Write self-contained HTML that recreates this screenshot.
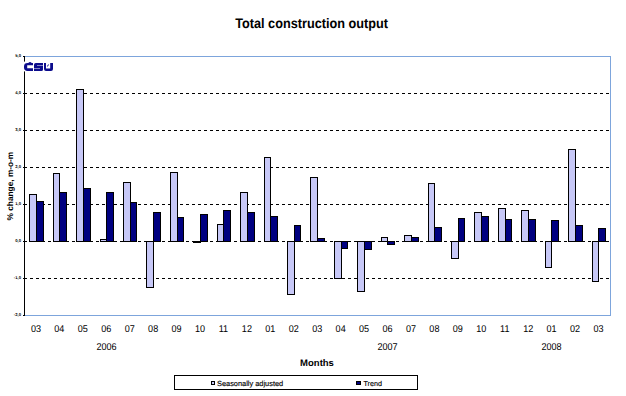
<!DOCTYPE html>
<html><head><meta charset="utf-8"><style>
html,body{margin:0;padding:0;background:#fff;width:626px;height:396px;overflow:hidden}
svg{display:block}
text{font-family:"Liberation Sans",sans-serif;text-rendering:geometricPrecision}
</style></head><body>
<svg width="626" height="396" viewBox="0 0 626 396">
<rect x="0" y="0" width="626" height="396" fill="#fff"/>
<text transform="translate(311.6,28) scale(0.92,1)" text-anchor="middle" font-weight="bold" font-size="13.8">Total construction output</text>
<line x1="24" y1="93.5" x2="610" y2="93.5" stroke="#000" stroke-width="1" stroke-dasharray="3 3"/><line x1="24" y1="130.5" x2="610" y2="130.5" stroke="#000" stroke-width="1" stroke-dasharray="3 3"/><line x1="24" y1="167.5" x2="610" y2="167.5" stroke="#000" stroke-width="1" stroke-dasharray="3 3"/><line x1="24" y1="204.5" x2="610" y2="204.5" stroke="#000" stroke-width="1" stroke-dasharray="3 3"/><line x1="24" y1="241.5" x2="610" y2="241.5" stroke="#000" stroke-width="1" stroke-dasharray="3 3"/><line x1="24" y1="278.5" x2="610" y2="278.5" stroke="#000" stroke-width="1" stroke-dasharray="3 3"/>
<rect x="29.5" y="194.5" width="7" height="47" fill="#c7c8f7" stroke="#000" stroke-width="1"/><rect x="36.5" y="201.5" width="7" height="40" fill="#000080" stroke="#000" stroke-width="1"/><rect x="53.5" y="173.5" width="6" height="68" fill="#c7c8f7" stroke="#000" stroke-width="1"/><rect x="59.5" y="192.5" width="7" height="49" fill="#000080" stroke="#000" stroke-width="1"/><rect x="76.5" y="89.5" width="7" height="152" fill="#c7c8f7" stroke="#000" stroke-width="1"/><rect x="83.5" y="188.5" width="7" height="53" fill="#000080" stroke="#000" stroke-width="1"/><rect x="100.5" y="239.5" width="6" height="2" fill="#c7c8f7" stroke="#000" stroke-width="1"/><rect x="106.5" y="192.5" width="7" height="49" fill="#000080" stroke="#000" stroke-width="1"/><rect x="123.5" y="182.5" width="7" height="59" fill="#c7c8f7" stroke="#000" stroke-width="1"/><rect x="130.5" y="202.5" width="6" height="39" fill="#000080" stroke="#000" stroke-width="1"/><rect x="146.5" y="241.5" width="7" height="46" fill="#c7c8f7" stroke="#000" stroke-width="1"/><rect x="153.5" y="212.5" width="7" height="29" fill="#000080" stroke="#000" stroke-width="1"/><rect x="170.5" y="172.5" width="7" height="69" fill="#c7c8f7" stroke="#000" stroke-width="1"/><rect x="177.5" y="217.5" width="6" height="24" fill="#000080" stroke="#000" stroke-width="1"/><rect x="193.5" y="241.5" width="7" height="1" fill="#c7c8f7" stroke="#000" stroke-width="1"/><rect x="200.5" y="214.5" width="7" height="27" fill="#000080" stroke="#000" stroke-width="1"/><rect x="217.5" y="224.5" width="6" height="17" fill="#c7c8f7" stroke="#000" stroke-width="1"/><rect x="223.5" y="210.5" width="7" height="31" fill="#000080" stroke="#000" stroke-width="1"/><rect x="240.5" y="192.5" width="7" height="49" fill="#c7c8f7" stroke="#000" stroke-width="1"/><rect x="247.5" y="212.5" width="7" height="29" fill="#000080" stroke="#000" stroke-width="1"/><rect x="264.5" y="157.5" width="6" height="84" fill="#c7c8f7" stroke="#000" stroke-width="1"/><rect x="270.5" y="216.5" width="7" height="25" fill="#000080" stroke="#000" stroke-width="1"/><rect x="287.5" y="241.5" width="7" height="53" fill="#c7c8f7" stroke="#000" stroke-width="1"/><rect x="294.5" y="225.5" width="6" height="16" fill="#000080" stroke="#000" stroke-width="1"/><rect x="310.5" y="177.5" width="7" height="64" fill="#c7c8f7" stroke="#000" stroke-width="1"/><rect x="317.5" y="238.5" width="7" height="3" fill="#000080" stroke="#000" stroke-width="1"/><rect x="334.5" y="241.5" width="7" height="37" fill="#c7c8f7" stroke="#000" stroke-width="1"/><rect x="341.5" y="241.5" width="6" height="7" fill="#000080" stroke="#000" stroke-width="1"/><rect x="357.5" y="241.5" width="7" height="50" fill="#c7c8f7" stroke="#000" stroke-width="1"/><rect x="364.5" y="241.5" width="7" height="8" fill="#000080" stroke="#000" stroke-width="1"/><rect x="381.5" y="237.5" width="6" height="4" fill="#c7c8f7" stroke="#000" stroke-width="1"/><rect x="387.5" y="241.5" width="7" height="3" fill="#000080" stroke="#000" stroke-width="1"/><rect x="404.5" y="235.5" width="7" height="6" fill="#c7c8f7" stroke="#000" stroke-width="1"/><rect x="411.5" y="237.5" width="7" height="4" fill="#000080" stroke="#000" stroke-width="1"/><rect x="428.5" y="183.5" width="6" height="58" fill="#c7c8f7" stroke="#000" stroke-width="1"/><rect x="434.5" y="227.5" width="7" height="14" fill="#000080" stroke="#000" stroke-width="1"/><rect x="451.5" y="241.5" width="7" height="17" fill="#c7c8f7" stroke="#000" stroke-width="1"/><rect x="458.5" y="218.5" width="6" height="23" fill="#000080" stroke="#000" stroke-width="1"/><rect x="474.5" y="212.5" width="7" height="29" fill="#c7c8f7" stroke="#000" stroke-width="1"/><rect x="481.5" y="216.5" width="7" height="25" fill="#000080" stroke="#000" stroke-width="1"/><rect x="498.5" y="208.5" width="7" height="33" fill="#c7c8f7" stroke="#000" stroke-width="1"/><rect x="505.5" y="219.5" width="6" height="22" fill="#000080" stroke="#000" stroke-width="1"/><rect x="521.5" y="210.5" width="7" height="31" fill="#c7c8f7" stroke="#000" stroke-width="1"/><rect x="528.5" y="219.5" width="7" height="22" fill="#000080" stroke="#000" stroke-width="1"/><rect x="545.5" y="241.5" width="6" height="26" fill="#c7c8f7" stroke="#000" stroke-width="1"/><rect x="551.5" y="220.5" width="7" height="21" fill="#000080" stroke="#000" stroke-width="1"/><rect x="568.5" y="149.5" width="7" height="92" fill="#c7c8f7" stroke="#000" stroke-width="1"/><rect x="575.5" y="225.5" width="7" height="16" fill="#000080" stroke="#000" stroke-width="1"/><rect x="592.5" y="241.5" width="6" height="40" fill="#c7c8f7" stroke="#000" stroke-width="1"/><rect x="598.5" y="228.5" width="7" height="13" fill="#000080" stroke="#000" stroke-width="1"/>
<line x1="24.5" y1="56" x2="24.5" y2="316" stroke="#000" stroke-width="1"/>
<line x1="23" y1="56.5" x2="27" y2="56.5" stroke="#000" stroke-width="1"/><line x1="23" y1="93.5" x2="27" y2="93.5" stroke="#000" stroke-width="1"/><line x1="23" y1="130.5" x2="27" y2="130.5" stroke="#000" stroke-width="1"/><line x1="23" y1="167.5" x2="27" y2="167.5" stroke="#000" stroke-width="1"/><line x1="23" y1="204.5" x2="27" y2="204.5" stroke="#000" stroke-width="1"/><line x1="23" y1="241.5" x2="27" y2="241.5" stroke="#000" stroke-width="1"/><line x1="23" y1="278.5" x2="27" y2="278.5" stroke="#000" stroke-width="1"/><line x1="23" y1="315.5" x2="27" y2="315.5" stroke="#000" stroke-width="1"/>
<g fill="#7da5dc"><rect x="25" y="56" width="586" height="1"/><rect x="610" y="56" width="1" height="260"/><rect x="25" y="315" width="586" height="1"/></g>

<g font-size="4.2" fill="#000" font-weight="bold"><text x="21.0" y="57.0" text-anchor="end">5,0</text><text x="21.0" y="94.0" text-anchor="end">4,0</text><text x="21.0" y="131.0" text-anchor="end">3,0</text><text x="21.0" y="168.0" text-anchor="end">2,0</text><text x="21.0" y="205.0" text-anchor="end">1,0</text><text x="21.0" y="242.0" text-anchor="end">0,0</text><text x="21.0" y="279.0" text-anchor="end">-1,0</text><text x="21.0" y="316.0" text-anchor="end">-2,0</text></g>
<g font-size="9.85" fill="#000"><text transform="translate(35.92,332) scale(0.92,1)" text-anchor="middle">03</text><text transform="translate(59.36,332) scale(0.92,1)" text-anchor="middle">04</text><text transform="translate(82.80,332) scale(0.92,1)" text-anchor="middle">05</text><text transform="translate(106.24,332) scale(0.92,1)" text-anchor="middle">06</text><text transform="translate(129.68,332) scale(0.92,1)" text-anchor="middle">07</text><text transform="translate(153.12,332) scale(0.92,1)" text-anchor="middle">08</text><text transform="translate(176.56,332) scale(0.92,1)" text-anchor="middle">09</text><text transform="translate(200.00,332) scale(0.92,1)" text-anchor="middle">10</text><text transform="translate(223.44,332) scale(0.92,1)" text-anchor="middle">11</text><text transform="translate(246.88,332) scale(0.92,1)" text-anchor="middle">12</text><text transform="translate(270.32,332) scale(0.92,1)" text-anchor="middle">01</text><text transform="translate(293.76,332) scale(0.92,1)" text-anchor="middle">02</text><text transform="translate(317.20,332) scale(0.92,1)" text-anchor="middle">03</text><text transform="translate(340.64,332) scale(0.92,1)" text-anchor="middle">04</text><text transform="translate(364.08,332) scale(0.92,1)" text-anchor="middle">05</text><text transform="translate(387.52,332) scale(0.92,1)" text-anchor="middle">06</text><text transform="translate(410.96,332) scale(0.92,1)" text-anchor="middle">07</text><text transform="translate(434.40,332) scale(0.92,1)" text-anchor="middle">08</text><text transform="translate(457.84,332) scale(0.92,1)" text-anchor="middle">09</text><text transform="translate(481.28,332) scale(0.92,1)" text-anchor="middle">10</text><text transform="translate(504.72,332) scale(0.92,1)" text-anchor="middle">11</text><text transform="translate(528.16,332) scale(0.92,1)" text-anchor="middle">12</text><text transform="translate(551.60,332) scale(0.92,1)" text-anchor="middle">01</text><text transform="translate(575.04,332) scale(0.92,1)" text-anchor="middle">02</text><text transform="translate(598.48,332) scale(0.92,1)" text-anchor="middle">03</text></g>
<g font-size="9.85" fill="#000" text-anchor="middle">
<text transform="translate(106.5,350) scale(0.92,1)">2006</text><text transform="translate(387.5,350) scale(0.92,1)">2007</text><text transform="translate(551.5,350) scale(0.92,1)">2008</text>
</g>
<text x="317" y="366" text-anchor="middle" font-weight="bold" font-size="9.5">Months</text>
<text transform="translate(13,186.1) rotate(-90)" text-anchor="middle" font-weight="bold" font-size="8.3">% change, m-o-m</text>
<rect x="174.5" y="375.5" width="243" height="14" fill="none" stroke="#000" stroke-width="1"/>
<rect x="211.5" y="381.5" width="3" height="3" fill="#c7c8f7" stroke="#000" stroke-width="1"/>
<text x="217" y="386" font-size="7.4" stroke="#000" stroke-width="0.15">Seasonally adjusted</text>
<rect x="356.5" y="381.5" width="4" height="3" fill="#000080" stroke="#000" stroke-width="1"/>
<text x="363.5" y="386" font-size="7.2" stroke="#000" stroke-width="0.15">Trend</text>
<rect x="24" y="61.6" width="30" height="9.8" fill="#fff"/>
<g fill="#0c0c8c">
<path d="M27.6,63H33V65.3H27.2V68.2H33V71H27.6Q24,71 24,67.6V66.4Q24,63 27.6,63Z"/>
<path d="M28.6,62.4Q30,61.8 31.4,62.4V63H28.6Z"/>
<path d="M35.8,63H43V65.4H37V65.9H43V69.4Q43,71 41.4,71H34V68.6H40V68.1H34V64.8Q34,63 35.8,63Z"/>
<path d="M44,63H46V68.4H50.2V63H53V69Q53,71 51,71H46Q44,71 44,69Z"/>
<path d="M46.8,66.6L48.1,64.4H49.2L47.7,66.6Z"/>
</g>
</svg>
</body></html>
